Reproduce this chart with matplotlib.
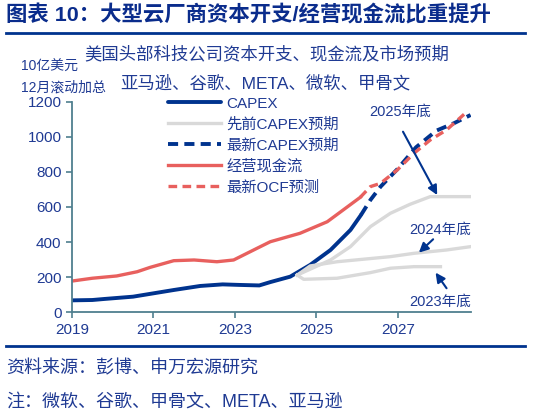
import numpy as np
import matplotlib
matplotlib.use('Agg')
import matplotlib.pyplot as plt

plt.rcParams['font.family'] = ['Liberation Sans', 'Noto Sans CJK SC', 'DejaVu Sans']

# data (10亿美元, 12月滚动加总), x in years
capex_x = [2019.0, 2019.5, 2019.8, 2020.5, 2021.0, 2021.5, 2022.15, 2022.7, 2023.1,
           2023.6, 2023.87, 2024.36, 2024.85, 2025.35, 2025.84, 2026.1]
capex_y = [68, 70, 76, 89, 108, 127, 150, 159, 156, 153, 172, 203, 270, 355, 469, 555]

capex_new_x = [2026.1, 2026.33, 2026.58, 2026.99, 2027.45, 2027.95, 2028.38, 2028.79]
capex_new_y = [555, 640, 716, 815, 940, 1035, 1077, 1124]

ocf_x = [2019.0, 2019.5, 2020.1, 2020.6, 2020.92, 2021.5, 2022.0, 2022.56, 2022.97,
         2023.54, 2023.87, 2024.6, 2025.27, 2025.76, 2026.08]
ocf_y = [178, 194, 207, 231, 256, 294, 298, 288, 298, 364, 402, 450, 516, 600, 655]

ocf_new_x = [2026.08, 2026.33, 2026.58, 2026.99, 2027.4, 2027.8, 2028.2, 2028.63]
ocf_new_y = [655, 716, 735, 811, 906, 982, 1039, 1128]

prev25_x = [2024.53, 2025.35, 2025.84, 2026.33, 2026.82, 2027.3, 2027.8, 2028.79]
prev25_y = [212, 298, 374, 488, 564, 615, 659, 659]

prev24_x = [2024.53, 2024.85, 2025.51, 2026.82, 2027.4, 2028.2, 2028.79]
prev24_y = [212, 264, 288, 317, 336, 355, 374]

prev23_x = [2024.53, 2024.69, 2025.51, 2026.33, 2026.82, 2027.4, 2028.05]
prev23_y = [212, 188, 194, 226, 251, 260, 260]

navy = '#00338E'
red = '#E8605E'
gray = '#D9D9D9'
txt = '#1F3A93'
spine = '#4F7F8F'

fig = plt.figure(figsize=(5.34, 4.15), dpi=100)
ax = fig.add_axes([0.1348, 0.2475, 0.7472, 0.5075])

dash = (0, (2.6, 1.6))
ax.plot(capex_x, capex_y, color=navy, lw=2.8, label='CAPEX', solid_capstyle='round')
ax.plot(prev25_x, prev25_y, color=gray, lw=2.4, label='先前CAPEX预期')
ax.plot(prev24_x, prev24_y, color=gray, lw=2.4)
ax.plot(prev23_x, prev23_y, color=gray, lw=2.4)
ax.plot(capex_new_x, capex_new_y, color=navy, lw=2.8, ls=dash, label='最新CAPEX预期')
ax.plot(ocf_x, ocf_y, color=red, lw=2.4, label='经营现金流')
ax.plot(ocf_new_x, ocf_new_y, color=red, lw=2.4, ls=dash, label='最新OCF预测')

ax.set_xlim(2019, 2028.8)
ax.set_ylim(0, 1200)
ax.set_xticks([2019, 2021, 2023, 2025, 2027])
ax.set_yticks(np.arange(0, 1201, 200))
for s in ['top', 'right']:
    ax.spines[s].set_visible(False)
for s in ['left', 'bottom']:
    ax.spines[s].set_color(spine)
    ax.spines[s].set_linewidth(1.3)
ax.tick_params(colors=spine, labelcolor=txt, labelsize=11, length=4, width=1.2)

# annotations
arrow = dict(arrowstyle='-|>', color=navy, lw=1.5, mutation_scale=14, shrinkA=0, shrinkB=0)
ax.annotate('', xy=(2027.97, 668), xytext=(2027.13, 1029), arrowprops=arrow)
ax.annotate('', xy=(2027.52, 340), xytext=(2027.87, 416), arrowprops=arrow)
ax.annotate('', xy=(2027.93, 226), xytext=(2028.2, 137), arrowprops=arrow)
ax.text(2027.07, 1143, '2025年底', color=txt, fontsize=10.5, ha='center', va='center')
ax.text(2028.04, 469, '2024年底', color=txt, fontsize=10.5, ha='center', va='center')
ax.text(2028.04, 60, '2023年底', color=txt, fontsize=10.5, ha='center', va='center')

leg = ax.legend(loc='upper left', bbox_to_anchor=(0.3146, 0.767), bbox_transform=fig.transFigure,
                frameon=False, fontsize=11, handlelength=3.5, handletextpad=0.3,
                labelspacing=0.44, borderpad=0, borderaxespad=0)
for t in leg.get_texts():
    t.set_color(txt)

# header / footer
fig.text(0.012, 0.963, '图表 10：大型云厂商资本开支/经营现金流比重提升', color='#0A2C8C',
         fontsize=15.4, fontweight='bold', va='center', ha='left')
fig.add_artist(plt.Line2D([0.012, 0.983], [0.921, 0.921], color=navy, lw=2))
fig.text(0.157, 0.869, '美国头部科技公司资本开支、现金流及市场预期', color=txt, fontsize=12.5,
         va='center', ha='left')
fig.text(0.225, 0.8, '亚马逊、谷歌、META、微软、甲骨文', color=txt, fontsize=12.5,
         va='center', ha='left')
fig.text(0.039, 0.839, '10亿美元', color=txt, fontsize=10, va='center', ha='left')
fig.text(0.039, 0.79, '12月滚动加总', color=txt, fontsize=10, va='center', ha='left')
fig.add_artist(plt.Line2D([0.012, 0.983], [0.166, 0.166], color=navy, lw=2))
fig.text(0.012, 0.111, '资料来源：彭博、申万宏源研究', color=txt, fontsize=13, va='center', ha='left')
fig.text(0.012, 0.031, '注：微软、谷歌、甲骨文、META、亚马逊', color=txt, fontsize=13, va='center', ha='left')

fig.savefig('out.png', dpi=100)
